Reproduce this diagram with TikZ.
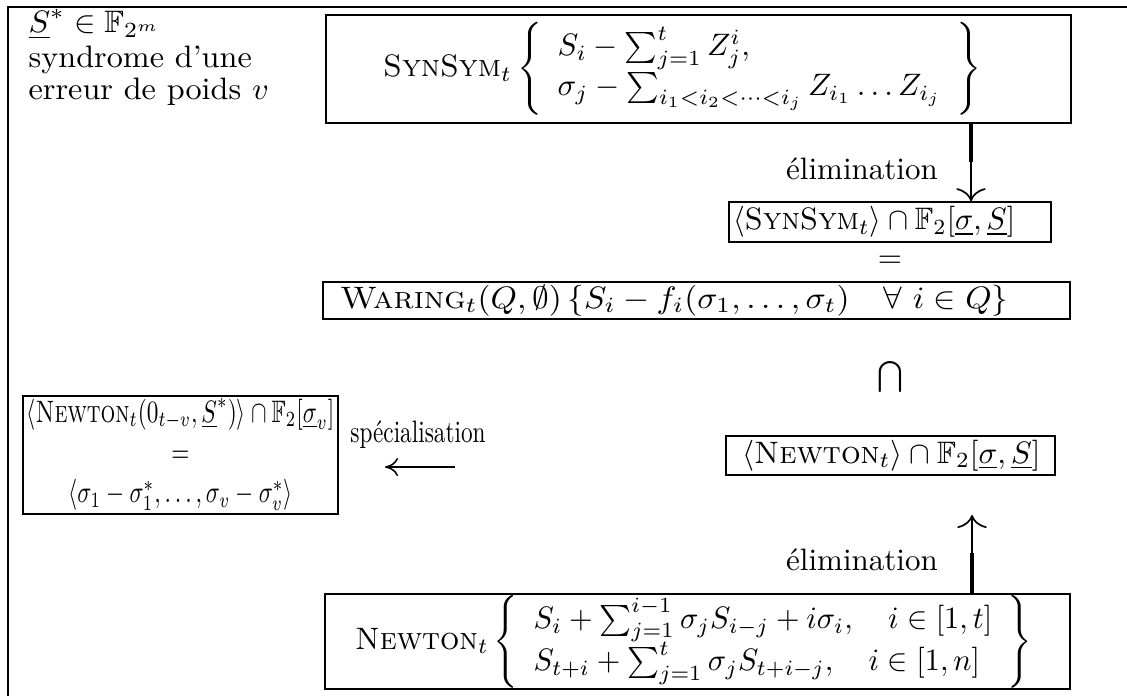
\documentclass[tikz,border=0pt]{standalone}
\usepackage{amsmath,amssymb}
\usepackage{graphicx}
\usetikzlibrary{arrows.meta}
\newcommand{\rowbox}[4]{\hbox to #1{\hspace*{#2}\scalebox{#3}[1]{#4}\hfil}}
\begin{document}
\begin{tikzpicture}[x=0.3226pt,y=-0.3226pt,
  box/.style={draw,line width=0.5pt,inner xsep=0pt,inner ysep=0pt,anchor=center},
  lbl/.style={inner sep=0pt,anchor=base},
  thickline/.style={line width=1.05pt},
  varrow/.style={line width=0.55pt,-{Computer Modern Rightarrow[length=4.2pt,width=9.5pt]}},
  harrow/.style={line width=0.5pt,-{Computer Modern Rightarrow[length=4.2pt,width=5.8pt]}},
  frame/.style={line width=0.65pt}]
\useasboundingbox (0,0) rectangle (1127,696);
\draw[frame] (1127,7) -- (8,7) -- (8,696);

\node[inner sep=0pt,anchor=base west] (txt) at (28,33) {\scalebox{1.04}[1]{\begin{tabular}[t]{@{}l@{}}$\underline{S}^*\in\mathbb{F}_{2^m}$\\[-1pt] syndrome d'une\\[-1.5pt] erreur de poids $v$\end{tabular}}};

\node[box,minimum height=34.8pt] (syn) at (698.5,69) {\rowbox{240.3pt}{18.4pt}{1}{$\textsc{SynSym}_t \left\{\begin{array}{l} S_i-\sum_{j=1}^{t} Z_j^i,\\ \sigma_j-\sum_{i_1<i_2<\cdots<i_j} Z_{i_1}\ldots Z_{i_j}\end{array}\right\}$}};

\node[box,minimum height=12.9pt] (syn2) at (890,222) {\rowbox{103.9pt}{1.3pt}{0.97}{$\langle\textsc{SynSym}_t\rangle\cap\mathbb{F}_2[\underline{\sigma},\underline{S}]$}};

\node[lbl] (eq1) at (890,267) {$=$};

\node[box,minimum height=11.9pt] (war) at (696.5,300.5) {\rowbox{241pt}{5.5pt}{1.08}{$\textsc{Waring}_t(Q,\emptyset)\,\{S_i-f_i(\sigma_1,\ldots,\sigma_t)\quad\forall\ i\in Q\}$}};

\node[inner sep=0pt] (cap) at (890,377) {$\bigcap$};

\node[box,minimum height=12.6pt] (new2) at (890.5,455.5) {\rowbox{106.1pt}{5.2pt}{1}{$\langle\textsc{Newton}_t\rangle\cap\mathbb{F}_2[\underline{\sigma},\underline{S}]$}};

\node[box,minimum height=30.6pt] (new) at (697.5,641.5) {\rowbox{240.3pt}{9.7pt}{0.98}{$\textsc{Newton}_t \left\{\begin{array}{l} S_i+\sum_{j=1}^{i-1}\sigma_jS_{i-j}+i\sigma_i, \quad i\in[1,t]\\ S_{t+i}+\sum_{j=1}^{t}\sigma_jS_{t+i-j}, \quad i\in[1,n]\end{array}\right\}$}};

\node[box,minimum width=101.6pt,minimum height=37.4pt] (left) at (180.5,455) {\scalebox{0.75}[1]{$\begin{array}{@{}c@{}}\langle\textsc{Newton}_t(0_{t-v},\underline{S}^*)\rangle\cap\mathbb{F}_2[\underline{\sigma}_v]\\[1pt] =\\[1pt] \langle\sigma_1-\sigma_1^*,\ldots,\sigma_v-\sigma_v^*\rangle\end{array}$}};

\node[lbl] (el1) at (862,180) {élimination};
\node[lbl] (el2) at (862,570) {élimination};
\node[lbl] (spe) at (418,442) {\scalebox{0.75}[1]{spécialisation}};

\coordinate (k1) at (971,162);
\draw[thickline] (syn.south -| k1) -- (k1);
\draw[varrow] (k1) -- (syn2.north -| k1);

\coordinate (k2) at (972,553);
\coordinate (t2) at (972,515);
\draw[thickline] (new.north -| k2) -- (k2);
\draw[varrow] (k2) -- (t2);

\coordinate (la) at (455,467);
\coordinate (lb) at (385,467);
\draw[harrow] (la) -- (lb);
\end{tikzpicture}
\end{document}
